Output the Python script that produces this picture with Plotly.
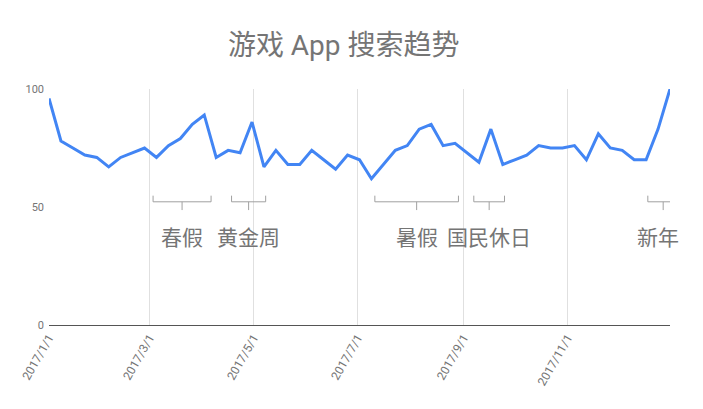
import pandas as pd
import plotly.graph_objects as go

# weekly search index, 2017
weeks = pd.date_range("2017-01-01", periods=53, freq="7D")
search_index = [
    96, 78, 75, 72, 71, 67, 71, 73, 75, 71,
    76, 79, 85, 89, 71, 74, 73, 86, 67, 74,
    68, 68, 74, 70, 66, 72, 70, 62, 68, 74,
    76, 83, 85, 76, 77, 73, 69, 83, 68, 70,
    72, 76, 75, 75, 76, 70, 81, 75, 74, 70,
    70, 83, 100,
]

# holiday periods (start, end, label)
holiday_names = ["春假", "黄金周", "暑假", "国民休日", "新年"]
holiday_start = ["2017-03-03", "2017-04-18", "2017-07-11", "2017-09-07", "2017-12-18"]
holiday_end = ["2017-04-06", "2017-05-08", "2017-08-29", "2017-09-25", "2018-01-05"]

title = "游戏 App 搜索趋势"
blue = "#4285F4"
grey = "#757575"
font = "Roboto, 'Noto Sans CJK SC', sans-serif"

fig = go.Figure()

fig.add_trace(go.Scatter(
    x=weeks,
    y=search_index,
    mode="lines",
    line={"color": blue, "width": 3},
    hoverinfo="x+y",
))

# brackets under each holiday
bx, by = [], []
top, bottom, tip = 54.8, 52.2, 48.7
for s, e in zip(holiday_start, holiday_end):
    s = pd.Timestamp(s)
    e = pd.Timestamp(e)
    mid = s + (e - s) / 2
    bx += [s, s, e, e, None, mid, mid, None]
    by += [top, bottom, bottom, top, None, bottom, tip, None]

fig.add_trace(go.Scatter(
    x=bx, y=by, mode="lines",
    line={"color": "#a0a0a0", "width": 1},
    hoverinfo="skip", cliponaxis=False,
))

for name, s, e in zip(holiday_names, holiday_start, holiday_end):
    s = pd.Timestamp(s)
    e = pd.Timestamp(e)
    mid = s + (e - s) / 2
    fig.add_annotation(
        x=mid, y=37, text=name, showarrow=False,
        xshift=-5 if name == "新年" else 0,
        font={"size": 21, "color": grey, "family": font},
    )

# page body has an 8px margin, so the figure is sized to fit inside it
fig.update_layout(
    width=695, height=401,
    margin={"l": 41, "r": 33, "t": 81, "b": 84},
    paper_bgcolor="white",
    plot_bgcolor="white",
    showlegend=False,
    font={"family": font, "color": grey},
    title={
        "text": title, "x": 0.483, "xanchor": "center",
        "y": 0.908, "yanchor": "middle",
        "font": {"size": 28, "color": grey, "family": font},
    },
    xaxis={
        "range": ["2017-01-01", "2017-12-31"],
        "dtick": "M2",
        "tick0": "2017-01-01",
        "tickformat": "%Y/%-m/%-d",
        "tickangle": -60,
        "showgrid": True,
        "gridcolor": "#e0e0e0",
        "gridwidth": 1,
        "zeroline": False,
        "showline": True,
        "linecolor": "#555555",
        "linewidth": 1,
        "ticks": "",
        "tickfont": {"size": 12, "color": grey},
    },
    yaxis={
        "range": [0, 100],
        "tickvals": [0, 50, 100],
        "showgrid": False,
        "zeroline": False,
        "showline": False,
        "ticks": "",
        "ticklabelstandoff": 4,
        "tickfont": {"size": 11, "color": grey},
    },
)

fig.write_html("out.html")
